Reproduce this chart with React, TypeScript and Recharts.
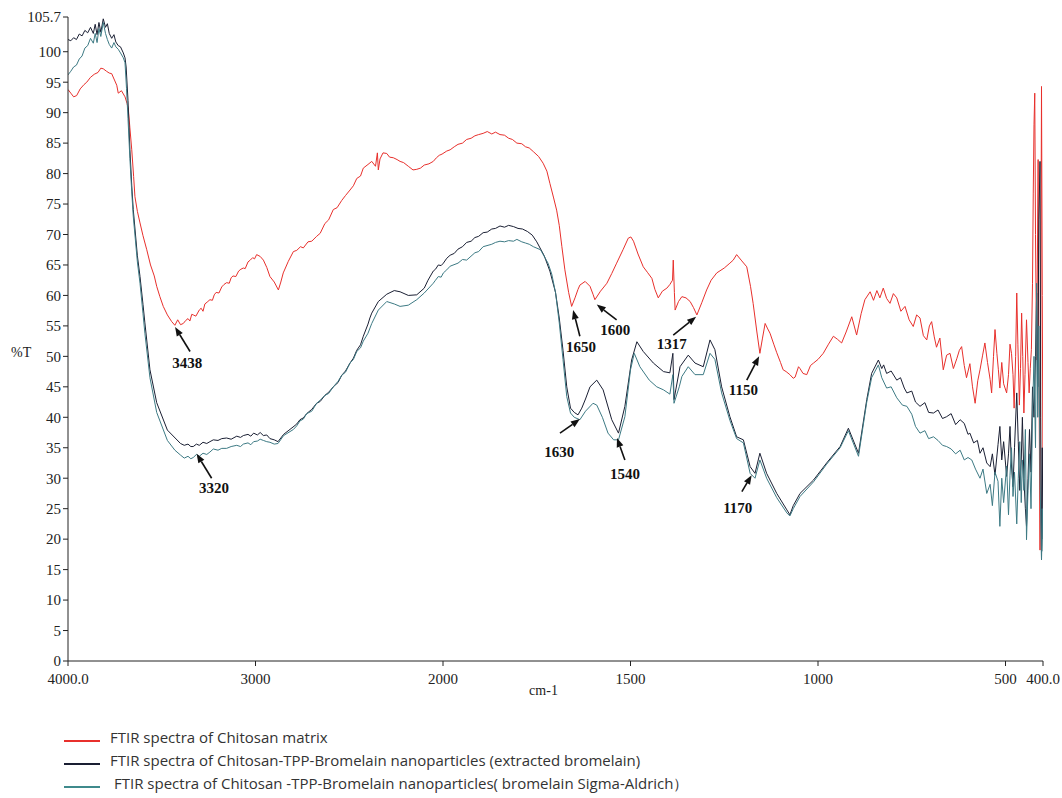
import React from "react";
import { LineChart, Line, XAxis, YAxis, ReferenceLine, ReferenceDot } from "recharts";

// [wavenumber cm-1, %T]
const chitosan: [number, number][] = [
  [4000, 93.8], [3985, 93.2], [3970, 92.6], [3954, 92.8], [3935, 93.9], [3915, 94.6], [3900, 95.0], [3880, 95.8],
  [3860, 96.3], [3840, 96.6], [3825, 97.3], [3812, 97.2], [3795, 96.8], [3780, 96.5], [3767, 96.4], [3750, 95.2],
  [3740, 94.5], [3732, 93.2], [3715, 93.6], [3696, 92.6], [3685, 91.5], [3678, 90.5], [3670, 87.5], [3660, 83.9],
  [3650, 79.5], [3643, 76.2], [3630, 73.8], [3616, 71.9], [3600, 69.8], [3580, 67.5], [3560, 65.0], [3540, 63.2],
  [3527, 61.5], [3510, 59.8], [3492, 58.2], [3470, 56.8], [3447, 55.7], [3430, 55.1], [3415, 56.0], [3400, 55.2],
  [3385, 55.4], [3372, 55.9], [3360, 56.2], [3350, 55.8], [3340, 56.9], [3332, 56.8], [3318, 56.6], [3300, 57.6],
  [3290, 57.9], [3280, 57.4], [3270, 58.6], [3258, 58.9], [3243, 59.3], [3230, 59.2], [3220, 60.1], [3210, 60.5],
  [3195, 60.4], [3180, 61.4], [3168, 61.8], [3154, 62.1], [3140, 62.0], [3130, 62.9], [3120, 63.2], [3105, 63.1],
  [3090, 64.0], [3078, 64.3], [3065, 64.5], [3055, 64.4], [3040, 65.5], [3028, 65.8], [3015, 66.2], [3005, 66.0],
  [2994, 66.7], [2975, 66.4], [2958, 65.8], [2940, 64.6], [2923, 63.1], [2900, 62.2], [2878, 60.9], [2865, 62.2],
  [2852, 63.7], [2825, 65.6], [2798, 67.2], [2780, 67.4], [2760, 68.0], [2745, 67.8], [2720, 68.8], [2700, 68.9],
  [2674, 69.7], [2655, 70.2], [2630, 71.8], [2610, 72.4], [2585, 74.1], [2565, 74.4], [2540, 75.6], [2520, 76.4],
  [2496, 77.3], [2478, 78.0], [2460, 79.2], [2440, 79.6], [2425, 80.9], [2400, 81.5], [2380, 82.0], [2360, 81.2],
  [2350, 83.4], [2345, 80.6], [2336, 82.4], [2320, 83.4], [2300, 83.3], [2285, 82.7], [2265, 82.6], [2245, 82.3],
  [2229, 82.0], [2210, 81.8], [2185, 81.2], [2160, 80.6], [2140, 80.7], [2120, 80.9], [2100, 81.4], [2075, 81.6],
  [2052, 82.0], [2035, 82.6], [2020, 83.0], [2005, 83.2], [1990, 83.7], [1981, 83.9], [1970, 84.4], [1960, 84.8],
  [1948, 85.0], [1937, 85.6], [1925, 85.8], [1915, 86.2], [1905, 86.4], [1893, 86.6], [1882, 86.9], [1870, 86.5],
  [1860, 86.8], [1848, 86.4], [1836, 86.3], [1825, 85.8], [1815, 85.6], [1803, 85.0], [1790, 84.9], [1780, 84.4],
  [1770, 84.2], [1759, 83.6], [1745, 82.8], [1733, 81.7], [1723, 80.4], [1715, 78.4], [1705, 76.0], [1697, 74.0],
  [1690, 71.5], [1683, 68.0], [1675, 64.2], [1665, 60.5], [1657, 58.2], [1648, 59.6], [1640, 61.0], [1635, 61.7],
  [1621, 62.3], [1608, 61.5], [1600, 60.2], [1595, 59.3], [1580, 60.7], [1563, 62.0], [1550, 63.6], [1537, 65.3],
  [1520, 67.5], [1506, 69.4], [1499, 69.6], [1492, 68.9], [1480, 66.8], [1466, 64.7], [1455, 63.8], [1443, 62.8],
  [1435, 61.0], [1426, 59.6], [1415, 60.7], [1403, 61.2], [1395, 61.8], [1388, 62.5], [1386, 65.8], [1383, 60.5],
  [1381, 57.6], [1372, 59.0], [1363, 59.8], [1352, 59.6], [1341, 59.0], [1332, 58.0], [1323, 56.8], [1310, 58.8],
  [1297, 60.9], [1285, 62.5], [1270, 63.7], [1250, 64.5], [1235, 65.3], [1226, 65.8], [1217, 66.7], [1205, 65.8],
  [1190, 64.7], [1180, 61.5], [1173, 58.7], [1163, 54.0], [1155, 50.5], [1148, 53.0], [1141, 55.4], [1134, 54.5],
  [1128, 53.8], [1118, 52.0], [1110, 50.6], [1100, 49.0], [1093, 47.8], [1085, 47.5], [1075, 47.0], [1066, 46.4],
  [1061, 46.6], [1052, 48.3], [1048, 48.0], [1040, 47.2], [1030, 47.0], [1020, 48.5], [1012, 48.9], [1000, 49.5],
  [986, 50.5], [972, 52.0], [959, 53.3], [948, 52.8], [937, 52.2], [925, 54.0], [910, 56.5], [897, 53.5],
  [885, 57.0], [875, 59.3], [861, 60.6], [852, 59.2], [843, 60.8], [835, 59.6], [826, 61.2], [817, 59.5],
  [808, 58.7], [799, 60.3], [790, 59.6], [779, 57.4], [768, 58.2], [757, 56.0], [746, 54.9], [737, 56.8],
  [728, 56.3], [719, 53.4], [710, 52.7], [703, 55.0], [697, 55.7], [690, 53.2], [684, 51.5], [675, 53.0],
  [666, 47.8], [657, 50.2], [648, 50.5], [639, 48.0], [630, 49.6], [623, 51.0], [617, 51.6], [610, 48.5],
  [604, 46.5], [595, 48.8], [588, 45.0], [581, 42.3], [574, 46.0], [568, 47.8], [561, 50.2], [555, 52.2],
  [548, 49.0], [541, 46.2], [537, 44.0], [532, 50.0], [528, 54.4], [523, 50.5], [519, 47.8], [515, 44.8],
  [510, 49.0], [505, 45.5], [497, 44.0], [492, 47.0], [488, 52.0], [484, 50.5], [480, 47.0], [477, 41.5],
  [473, 50.0], [470, 60.4], [467, 52.0], [463, 42.0], [460, 48.0], [457, 57.1], [454, 50.0], [451, 40.7],
  [448, 47.0], [444, 56.0], [440, 49.0], [437, 44.0], [434, 48.0], [431, 51.1], [428, 62.0], [426, 76.8],
  [424, 88.0], [422, 93.2], [420, 70.0], [417, 49.4], [415, 65.0], [413, 82.3], [411, 50.0], [408, 18.2],
  [406, 55.0], [404, 94.3], [402, 60.0], [400, 30.0],
];

const extracted: [number, number][] = [
  [4000, 102.0], [3985, 101.8], [3970, 102.3], [3955, 102.0], [3940, 102.9], [3925, 102.6], [3910, 103.5], [3895, 103.1],
  [3880, 104.0], [3865, 103.0], [3855, 104.5], [3845, 102.8], [3835, 104.8], [3825, 103.2], [3812, 105.4], [3800, 104.0],
  [3790, 104.6], [3780, 103.0], [3767, 102.2], [3755, 102.8], [3745, 101.6], [3732, 101.0], [3720, 100.8], [3705, 99.8],
  [3696, 99.0], [3690, 97.5], [3680, 92.0], [3670, 84.0], [3660, 78.0], [3652, 74.1], [3630, 66.5], [3616, 63.1],
  [3600, 58.5], [3590, 55.5], [3563, 47.8], [3527, 42.4], [3470, 37.9], [3400, 35.7], [3380, 35.4], [3360, 35.6],
  [3345, 35.2], [3332, 35.2], [3315, 35.6], [3300, 35.4], [3280, 35.9], [3260, 35.7], [3243, 36.0], [3225, 36.3],
  [3200, 36.2], [3180, 36.5], [3154, 36.6], [3130, 36.4], [3100, 36.9], [3080, 36.7], [3065, 37.0], [3040, 37.2],
  [3025, 36.9], [3010, 37.4], [2990, 37.1], [2975, 37.5], [2958, 37.0], [2940, 37.1], [2923, 36.5], [2900, 36.3],
  [2880, 36.0], [2850, 37.2], [2800, 38.4], [2780, 38.9], [2763, 39.6], [2745, 39.9], [2727, 40.6], [2700, 41.3],
  [2674, 42.3], [2655, 42.6], [2630, 43.6], [2610, 44.1], [2585, 45.0], [2560, 45.7], [2540, 46.9], [2520, 47.6],
  [2496, 48.9], [2478, 49.7], [2460, 51.0], [2440, 51.9], [2425, 53.3], [2400, 55.3], [2390, 56.3], [2380, 57.1],
  [2345, 59.0], [2300, 60.2], [2260, 60.8], [2229, 60.6], [2185, 60.0], [2140, 60.1], [2100, 61.2], [2080, 62.5],
  [2052, 64.0], [2040, 64.3], [2025, 65.0], [2010, 64.9], [1999, 65.3], [1990, 66.1], [1981, 66.6], [1970, 66.9],
  [1960, 67.6], [1948, 68.0], [1937, 68.7], [1925, 68.9], [1915, 69.5], [1905, 69.7], [1893, 70.3], [1882, 70.4],
  [1870, 70.9], [1860, 71.0], [1848, 71.4], [1836, 71.2], [1825, 71.5], [1812, 71.3], [1800, 71.0], [1788, 70.9],
  [1775, 70.5], [1762, 69.9], [1750, 68.8], [1730, 66.5], [1715, 64.0], [1700, 60.5], [1690, 56.3], [1680, 51.0],
  [1670, 45.0], [1660, 41.5], [1650, 40.8], [1640, 40.4], [1630, 41.5], [1620, 43.0], [1608, 45.0], [1590, 46.1],
  [1573, 44.5], [1550, 39.6], [1532, 37.4], [1515, 41.8], [1497, 49.4], [1483, 52.4], [1466, 50.8], [1439, 48.9],
  [1412, 47.5], [1395, 47.3], [1387, 50.5], [1384, 42.9], [1368, 48.3], [1346, 50.2], [1328, 48.9], [1306, 48.3],
  [1288, 52.7], [1275, 51.1], [1257, 45.0], [1235, 40.1], [1217, 36.8], [1199, 36.3], [1181, 31.9], [1168, 30.8],
  [1155, 34.1], [1137, 30.8], [1110, 27.5], [1083, 24.8], [1075, 24.0], [1066, 25.5], [1048, 27.5], [1012, 29.7],
  [977, 32.5], [941, 35.2], [919, 38.2], [892, 34.1], [870, 42.9], [857, 47.2], [839, 49.4], [830, 48.0],
  [825, 48.6], [817, 47.2], [805, 47.6], [790, 46.1], [780, 46.5], [770, 44.8], [763, 44.0], [750, 44.3],
  [740, 42.5], [728, 41.8], [715, 42.4], [705, 40.8], [692, 40.7], [680, 41.2], [668, 39.8], [657, 40.1],
  [645, 40.6], [633, 38.8], [621, 39.6], [610, 39.0], [600, 37.2], [595, 37.4], [585, 35.8], [575, 36.2],
  [568, 34.1], [560, 35.0], [550, 32.5], [541, 31.9], [535, 34.0], [528, 30.5], [520, 35.5], [515, 38.5],
  [510, 33.0], [505, 36.0], [497, 30.3], [492, 34.0], [488, 38.5], [484, 32.0], [480, 28.6], [476, 35.0],
  [470, 44.0], [466, 36.0], [462, 28.0], [458, 33.0], [455, 40.0], [451, 30.0], [447, 25.0], [444, 22.1],
  [440, 30.0], [436, 38.0], [432, 31.0], [428, 45.0], [424, 40.0], [420, 50.0], [417, 60.4], [414, 45.0],
  [411, 72.4], [408, 82.0], [406, 40.0], [404, 16.6], [402, 35.0], [400, 20.0],
];

const sigma: [number, number][] = [
  [4000, 96.2], [3985, 96.8], [3970, 97.5], [3955, 97.8], [3940, 98.8], [3925, 99.3], [3910, 100.6], [3895, 101.0],
  [3880, 102.2], [3865, 101.4], [3855, 103.0], [3845, 101.5], [3835, 103.8], [3825, 102.5], [3812, 104.8], [3800, 103.0],
  [3790, 102.0], [3780, 101.2], [3767, 100.6], [3755, 101.5], [3745, 100.8], [3732, 100.4], [3720, 99.8], [3705, 99.0],
  [3696, 98.2], [3688, 94.0], [3680, 89.0], [3670, 82.5], [3660, 77.0], [3652, 73.0], [3630, 65.5], [3616, 62.0],
  [3600, 57.0], [3590, 53.8], [3563, 46.5], [3527, 40.8], [3470, 36.2], [3430, 34.6], [3400, 33.8], [3380, 33.3],
  [3360, 33.6], [3345, 33.2], [3332, 33.4], [3315, 33.9], [3300, 33.6], [3280, 34.1], [3260, 33.9], [3243, 34.3],
  [3225, 34.8], [3200, 34.6], [3180, 34.9], [3154, 34.9], [3130, 35.2], [3100, 35.4], [3080, 35.2], [3065, 35.6],
  [3040, 35.8], [3025, 35.5], [3010, 36.0], [2990, 36.1], [2975, 36.4], [2958, 36.2], [2940, 36.0], [2923, 35.9],
  [2900, 35.6], [2880, 35.7], [2850, 37.0], [2798, 38.0], [2780, 38.6], [2763, 39.4], [2745, 39.7], [2727, 40.6],
  [2700, 41.0], [2674, 42.3], [2655, 42.8], [2630, 43.6], [2610, 43.9], [2585, 45.0], [2560, 45.9], [2540, 46.9],
  [2520, 47.4], [2496, 48.9], [2478, 49.5], [2460, 50.8], [2440, 51.4], [2425, 52.5], [2400, 53.8], [2380, 55.4],
  [2345, 57.6], [2300, 59.0], [2260, 58.6], [2229, 58.2], [2185, 58.4], [2140, 59.3], [2100, 60.4], [2052, 62.0],
  [2040, 62.5], [2025, 63.1], [2010, 63.0], [1999, 63.7], [1990, 64.2], [1981, 64.8], [1960, 65.3], [1948, 65.9],
  [1937, 65.8], [1915, 67.0], [1905, 67.2], [1893, 68.0], [1870, 68.4], [1860, 68.7], [1848, 68.9], [1836, 68.8],
  [1825, 69.0], [1812, 68.9], [1803, 69.2], [1790, 68.8], [1780, 68.6], [1770, 68.4], [1759, 68.0], [1740, 67.5],
  [1720, 65.3], [1710, 63.5], [1700, 60.5], [1690, 55.5], [1680, 49.5], [1670, 43.4], [1660, 40.7], [1650, 40.0],
  [1635, 39.6], [1620, 41.0], [1600, 42.3], [1590, 42.0], [1575, 40.0], [1560, 37.4], [1545, 36.3], [1532, 36.3],
  [1515, 40.1], [1500, 47.8], [1490, 50.5], [1475, 48.3], [1450, 46.1], [1430, 45.0], [1412, 44.5], [1395, 43.8],
  [1387, 47.0], [1384, 42.3], [1370, 45.0], [1363, 46.7], [1346, 48.3], [1328, 47.0], [1306, 47.0], [1288, 50.5],
  [1275, 49.5], [1257, 44.0], [1235, 39.5], [1217, 36.5], [1199, 35.8], [1181, 30.8], [1168, 30.0], [1155, 33.0],
  [1137, 30.0], [1110, 26.8], [1083, 24.3], [1075, 23.8], [1066, 25.0], [1048, 27.0], [1012, 29.4], [977, 32.3],
  [941, 35.0], [919, 37.8], [892, 33.6], [870, 42.5], [857, 46.5], [839, 48.6], [830, 46.5], [817, 44.8],
  [805, 45.0], [790, 43.2], [775, 42.0], [763, 41.8], [750, 40.5], [740, 38.5], [728, 37.4], [715, 37.8],
  [705, 36.5], [692, 36.8], [680, 36.2], [668, 35.4], [657, 35.2], [645, 34.8], [633, 34.0], [621, 34.6],
  [610, 33.0], [600, 33.4], [590, 33.0], [580, 31.5], [568, 30.0], [560, 31.5], [550, 27.5], [541, 29.0],
  [535, 25.5], [528, 31.0], [520, 29.5], [515, 22.1], [510, 30.0], [505, 26.0], [497, 32.0], [492, 24.0],
  [488, 30.5], [484, 35.0], [480, 27.0], [476, 31.0], [470, 22.5], [466, 30.0], [462, 36.0], [458, 26.0],
  [455, 33.0], [451, 28.0], [447, 38.0], [444, 19.9], [440, 28.0], [436, 34.0], [432, 25.0], [428, 40.0],
  [424, 50.0], [420, 35.0], [417, 62.0], [414, 40.0], [411, 55.0], [408, 30.0], [404, 16.6], [402, 25.0],
  [400, 18.0],
];

const yTicks = [0, 5, 10, 15, 20, 25, 30, 35, 40, 45, 50, 55, 60, 65, 70, 75, 80, 85, 90, 95, 100, 105.7];
const xTickWn = [4000, 3000, 2000, 1500, 1000, 500, 400];
const xTickLabels = ["4000.0", "3000", "2000", "1500", "1000", "500", "400.0"];

// peak marks: label text, arrow tail -> head, text centre (wavenumber, %T)
const peaks = [
  { label: "3438", tail: [3349, 50.8], head: [3429, 54.8], text: [3364, 49.0] },
  { label: "3320", tail: [3234, 30.0], head: [3314, 34.0], text: [3221, 28.4] },
  { label: "1650", tail: [1635, 53.3], head: [1653, 57.6], text: [1632, 51.6] },
  { label: "1600", tail: [1537, 56.0], head: [1590, 58.5], text: [1541, 54.3] },
  { label: "1317", tail: [1386, 53.5], head: [1325, 56.5], text: [1390, 52.1] },
  { label: "1150", tail: [1190, 46.1], head: [1157, 50.0], text: [1199, 44.6] },
  { label: "1630", tail: [1688, 37.4], head: [1635, 39.7], text: [1690, 34.4] },
  { label: "1540", tail: [1515, 33.0], head: [1536, 36.6], text: [1515, 30.8] },
  { label: "1170", tail: [1203, 27.8], head: [1177, 30.5], text: [1214, 25.2] },
];

const legendItems = [
  { name: "FTIR spectra of Chitosan matrix", color: "#e8302c" },
  { name: "FTIR spectra of Chitosan-TPP-Bromelain nanoparticles (extracted bromelain)", color: "#1a1f33" },
  { name: "FTIR spectra of Chitosan -TPP-Bromelain nanoparticles( bromelain Sigma-Aldrich）", color: "#3f8a8c" },
];

// instrument plots 4000-2000 at half the scale of 2000-400
const toAxis = (wn: number) => (wn >= 2000 ? (4000 - wn) / 2 : 1000 + (2000 - wn));
const toRows = (pts: [number, number][]) => pts.map(([wn, t]) => ({ u: toAxis(wn), t }));

const serif = "'Liberation Serif', 'DejaVu Serif', serif";

function Arrow(props: any) {
  const { x1, y1, x2, y2 } = props;
  const dx = x2 - x1;
  const dy = y2 - y1;
  const len = Math.hypot(dx, dy) || 1;
  const ux = dx / len;
  const uy = dy / len;
  const bx = x2 - ux * 9;
  const by = y2 - uy * 9;
  return (
    <g>
      <line x1={x1} y1={y1} x2={bx} y2={by} stroke="#111" strokeWidth={1.6} />
      <polygon
        points={`${x2},${y2} ${bx - uy * 3.5},${by + ux * 3.5} ${bx + uy * 3.5},${by - ux * 3.5}`}
        fill="#111"
      />
    </g>
  );
}

export default function App() {
  const ticks = xTickWn.map(toAxis);
  const tickText = (u: number) => xTickLabels[ticks.indexOf(u)] ?? "";

  return (
    <div style={{ position: "absolute", left: 0, top: 0, width: 1062, height: 798, background: "#fff" }}>
      <LineChart width={1062} height={700} margin={{ top: 17, right: 19, left: 8, bottom: 9 }}>
        <XAxis
          type="number"
          dataKey="u"
          domain={[0, 2600]}
          ticks={ticks}
          interval={0}
          tickFormatter={tickText}
          allowDataOverflow
          height={30}
          tickSize={5}
          tickMargin={7}
          stroke="#222"
          tick={{ fill: "#222", fontSize: 15, fontFamily: serif }}
          label={{ value: "cm-1", position: "bottom", offset: -6, dx: -12, fill: "#222", fontSize: 14, fontFamily: serif }}
        />
        <YAxis
          type="number"
          domain={[0, 105.7]}
          ticks={yTicks}
          interval={0}
          allowDataOverflow
          width={60}
          tickSize={5}
          tickMargin={2}
          stroke="#222"
          tick={{ fill: "#222", fontSize: 15, fontFamily: serif }}
          label={{ value: "%T", position: "insideLeft", offset: 3, dy: 13, fill: "#222", fontSize: 14, fontFamily: serif }}
        />
        <Line data={toRows(chitosan)} dataKey="t" type="linear" stroke={legendItems[0].color} strokeWidth={1} dot={false} isAnimationActive={false} />
        <Line data={toRows(extracted)} dataKey="t" type="linear" stroke={legendItems[1].color} strokeWidth={1} dot={false} isAnimationActive={false} />
        <Line data={toRows(sigma)} dataKey="t" type="linear" stroke="#3d7a84" strokeWidth={1} dot={false} isAnimationActive={false} />
        {peaks.map((p) => (
          <ReferenceLine
            key={`a${p.label}`}
            segment={[
              { x: toAxis(p.tail[0]), y: p.tail[1] },
              { x: toAxis(p.head[0]), y: p.head[1] },
            ]}
            ifOverflow="visible"
            shape={Arrow}
          />
        ))}
        {peaks.map((p) => (
          <ReferenceDot
            key={`t${p.label}`}
            x={toAxis(p.text[0])}
            y={p.text[1]}
            r={0}
            fill="none"
            stroke="none"
            ifOverflow="visible"
            label={{ value: p.label, position: "center", fill: "#111", fontSize: 15, fontWeight: 700, fontFamily: serif }}
          />
        ))}
      </LineChart>
      {legendItems.map((item, i) => (
        <div
          key={item.name}
          style={{
            position: "absolute",
            left: 64,
            top: 725.5 + i * 23,
            height: 23,
            display: "flex",
            alignItems: "center",
            fontFamily: "'Open Sans', 'Noto Sans', sans-serif",
            fontSize: 15,
            color: "#333",
            whiteSpace: "nowrap",
          }}
        >
          <span style={{ display: "inline-block", width: 36, height: 2, background: item.color, marginTop: 8 }} />
          <span style={{ marginLeft: i === 2 ? 14 : 10 }}>{item.name}</span>
        </div>
      ))}
    </div>
  );
}
